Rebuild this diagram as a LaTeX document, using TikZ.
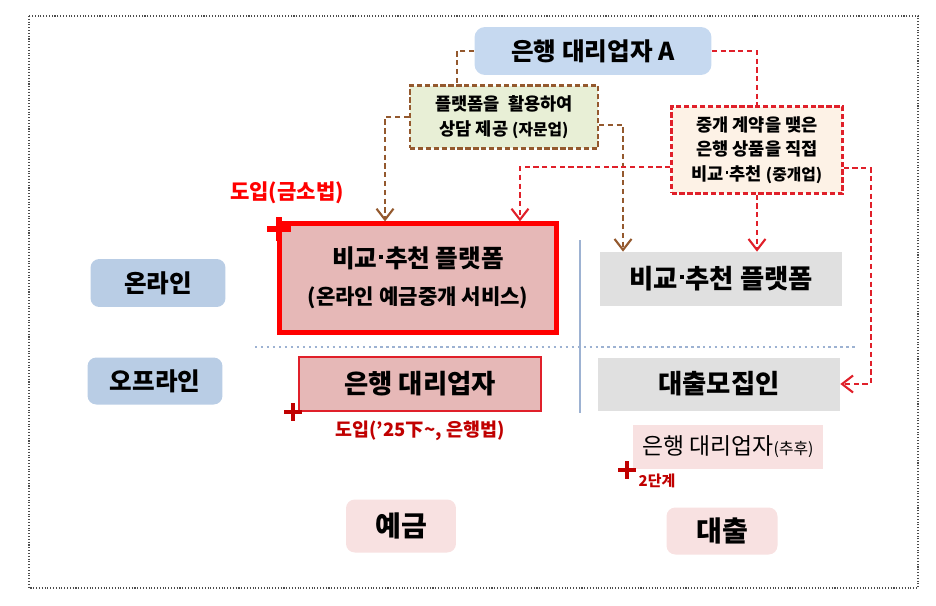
\documentclass[tikz,border=0pt]{standalone}
\usepackage{fontspec}
\setmainfont{Noto Sans CJK KR}
\usetikzlibrary{arrows.meta}

\definecolor{labelBlue}{HTML}{B9CDE5}
\definecolor{topBlue}{HTML}{C6D9F0}
\definecolor{consultGreen}{HTML}{E8EFD6}
\definecolor{brokerCream}{HTML}{FDF2E6}
\definecolor{platPink}{HTML}{E6B8B7}
\definecolor{lightPink}{HTML}{F8E1E1}
\definecolor{greyBox}{HTML}{E0E0E0}
\definecolor{linkBrown}{HTML}{94592E}
\definecolor{linkRed}{HTML}{E0202A}
\definecolor{darkRed}{HTML}{C00000}
\definecolor{divider}{HTML}{9DB2D2}

% tight middle dot between words
\newcommand{\mdot}{\kern.08em\rule[.36em]{.15em}{.15em}\kern.08em}

\begin{document}
\begin{tikzpicture}[
    x=0.02cm,
    y=-0.02cm,
    txt/.style={font=\fontsize{14}{17}\selectfont\bfseries},
    rowLabel/.style={txt, fill=labelBlue, rounded corners=5pt, inner sep=0pt},
    colLabel/.style={txt, font=\fontsize{16}{19}\selectfont\bfseries, fill=lightPink, rounded corners=5pt, inner sep=0pt},
    greyBoxStyle/.style={txt, font=\fontsize{15}{18}\selectfont\bfseries, fill=greyBox, inner sep=0pt},
    noteBox/.style={font=\fontsize{10}{14}\selectfont\bfseries, align=center, inner sep=0pt,
        dash pattern=on 3pt off 1.5pt, line width=1.3pt},
    brownLink/.style={draw=linkBrown, line width=1.2pt, dash pattern=on 3pt off 2pt},
    redLink/.style={draw=linkRed, line width=1.2pt, dash pattern=on 3pt off 2pt},
    tip/.style={-{Straight Barb[length=2.2mm,width=3.4mm]}},
    newMark/.style={line width=2.6pt, line cap=butt}
]
\path[use as bounding box] (0,0) rectangle (936,605);
\draw[black!70, line width=0.6pt, densely dotted] (29,16) rectangle (918,588);

% top: bank agent A and the two kinds of business
\node[txt, fill=topBlue, rounded corners=6pt, minimum width=4.74cm, minimum height=0.96cm, inner sep=0pt]
    (bankA) at (593,51) {은행 대리업자 A};
\node[noteBox, draw=linkBrown, fill=consultGreen, minimum width=3.76cm, minimum height=1.26cm]
    (consult) at (504,117) {플랫폼을 \ 활용하여\\상담 제공 {\fontsize{9}{12}\selectfont(자문업)}};
\node[noteBox, draw=linkRed, fill=brokerCream, minimum width=3.42cm, minimum height=1.74cm]
    (broker) at (757,150) {중개 계약을 맺은\\은행 상품을 직접\\비교\mdot 추천 {\fontsize{9}{12}\selectfont(중개업)}};

% divider lines
\draw[divider, line width=1.4pt, dotted] (255,347) -- (858,347);
\draw[divider, line width=1.3pt] (580,240) -- (580,413);

% row and column labels
\node[rowLabel, minimum width=2.70cm, minimum height=0.96cm] (online) at (158,283) {온라인};
\node[rowLabel, minimum width=2.70cm, minimum height=0.94cm] (offline) at (155,381) {오프라인};
\node[colLabel, minimum width=2.20cm, minimum height=1.06cm] (deposit) at (401,526) {예금};
\node[colLabel, minimum width=2.22cm, minimum height=0.94cm] (loan) at (722,531) {대출};

% deposit column
\node[txt, align=center, draw=red, line width=2.4pt, fill=platPink, minimum width=5.54cm, minimum height=2.18cm, inner sep=0pt]
    (platform) at (418,278) {비교\mdot 추천 플랫폼\\[4pt]{\fontsize{12}{15}\selectfont(온라인 예금중개 서비스)}};
\node[txt, font=\fontsize{15}{18}\selectfont\bfseries, draw=linkRed, line width=1.3pt, fill=platPink, minimum width=4.84cm, minimum height=1.08cm, inner sep=0pt]
    (bankAgent) at (420,384) {은행 대리업자};
\node[font=\fontsize{12}{14}\selectfont\bfseries, text=red] (lawIntro) at (287,193) {도입(금소법)};
\node[font=\fontsize{10.5}{13}\selectfont\bfseries, text=darkRed] (bankIntro) at (420,431) {도입('25下\textasciitilde, 은행법)};

% loan column
\node[greyBoxStyle, minimum width=4.86cm, minimum height=1.08cm] (platR) at (721,279) {비교\mdot 추천 플랫폼};
\node[greyBoxStyle, minimum width=4.84cm, minimum height=1.06cm] (loanAgent) at (719,384) {대출모집인};
\node[font=\fontsize{13}{16}\selectfont, fill=lightPink, minimum width=3.80cm, minimum height=0.88cm, inner sep=0pt]
    (bankLater) at (728,447) {은행 대리업자{\fontsize{9}{12}\selectfont(추후)}};
\node[font=\fontsize{8.5}{10}\selectfont\bfseries, text=darkRed] (stage) at (657,481) {2단계};

% plus marks
\draw[newMark, red, line width=3pt] (267,229) -- (291,229) (279,217) -- (279,241);
\draw[newMark, darkRed] (284,412) -- (302,412) (293,403) -- (293,421);
\draw[newMark, darkRed] (618,470) -- (636,470) (627,461) -- (627,479);

% links
\draw[brownLink] (bankA.west) -| ([xshift=-0.94cm]consult.north);
\draw[brownLink, tip] (consult.west) -| ([xshift=-0.66cm]platform.north);
\draw[brownLink, tip] ([yshift=-0.16cm]consult.east) -| ([xshift=-1.96cm]platR.north);
\draw[redLink] (bankA.east) -| (broker.north);
\draw[redLink, tip] ([yshift=-0.34cm]broker.west) -| ([xshift=2.04cm]platform.north);
\draw[redLink, tip] (broker.south) -- (broker.south |- platR.north);
\draw[redLink, tip] ([yshift=-0.36cm]broker.east) -- ++(27,0) |- (loanAgent.east);
\end{tikzpicture}
\end{document}
